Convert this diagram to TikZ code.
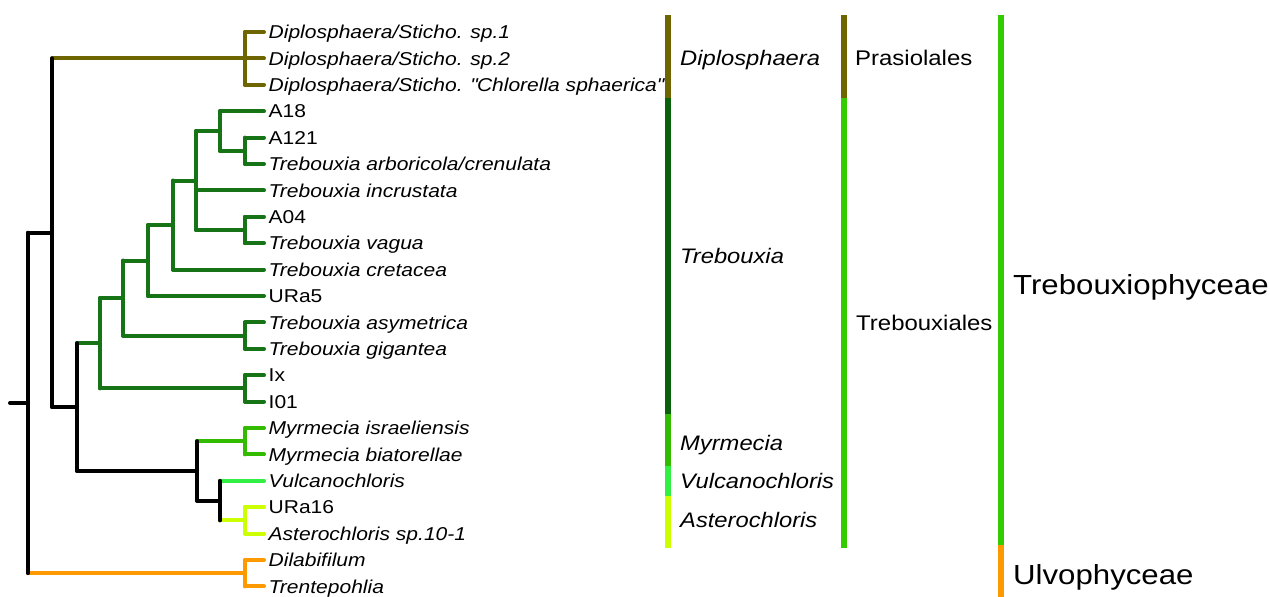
\documentclass[tikz,border=0pt]{standalone}
\usepackage{fontspec}
\setmainfont{Liberation Sans}[FakeStretch=1.13]
\definecolor{cOlive}{HTML}{6E6400}
\definecolor{cTreb}{HTML}{167416}
\definecolor{cTrebBar}{HTML}{0B600B}
\definecolor{cMyr}{HTML}{33BB00}
\definecolor{cVul}{HTML}{33EE44}
\definecolor{cAst}{HTML}{CCFF00}
\definecolor{cOra}{HTML}{FF9900}
\definecolor{cGrn}{HTML}{33CC00}
\tikzset{
  br/.style={line width=4pt, line cap=round, line join=round},
  leaf/.style={anchor=west, inner xsep=4.5pt, inner ysep=0pt, text height=13.3pt, text depth=0pt, font=\fontsize{18.6}{20}\selectfont},
  bar/.style={line width=6.5pt},
  cladelab/.style={anchor=west, inner sep=0pt, text height=15pt, text depth=0pt, font=\fontsize{21}{24}\selectfont\itshape},
  ordlab/.style={anchor=west, inner sep=0pt, text height=15pt, text depth=0pt, font=\fontsize{21.2}{24}\selectfont},
  classlab/.style={anchor=west, inner sep=0pt, text height=19.8pt, text depth=0pt, font=\fontsize{27.6}{30}\selectfont},
}
\begin{document}
\begin{tikzpicture}[x=1pt,y=-1pt]
\useasboundingbox (0,0) rectangle (1270,597);
% leaves
\node[leaf] (l1)  at (264,32)    {\itshape Diplosphaera/Sticho. sp.1};
\node[leaf] (l2)  at (264,58.4)  {\itshape Diplosphaera/Sticho. sp.2};
\node[leaf] (l3)  at (264,84.8)  {\itshape Diplosphaera/Sticho. \textquotedbl Chlorella sphaerica\textquotedbl};
\node[leaf] (l4)  at (264,111.2) {A18};
\node[leaf] (l5)  at (264,137.6) {A121};
\node[leaf] (l6)  at (264,164)   {\itshape Trebouxia arboricola/crenulata};
\node[leaf] (l7)  at (264,190.4) {\itshape Trebouxia incrustata};
\node[leaf] (l8)  at (264,216.8) {A04};
\node[leaf] (l9)  at (264,243.2) {\itshape Trebouxia vagua};
\node[leaf] (l10) at (264,269.6) {\itshape Trebouxia cretacea};
\node[leaf] (l11) at (264,296)   {URa5};
\node[leaf] (l12) at (264,322.4) {\itshape Trebouxia asymetrica};
\node[leaf] (l13) at (264,348.8) {\itshape Trebouxia gigantea};
\node[leaf] (l14) at (264,375.2) {Ix};
\node[leaf] (l15) at (264,401.6) {I01};
\node[leaf] (l16) at (264,428)   {\itshape Myrmecia israeliensis};
\node[leaf] (l17) at (264,454.4) {\itshape Myrmecia biatorellae};
\node[leaf] (l18) at (264,480.8) {\itshape Vulcanochloris};
\node[leaf] (l19) at (264,507.2) {URa16};
\node[leaf] (l20) at (264,533.6) {\itshape Asterochloris sp.10-1};
\node[leaf] (l21) at (264,560)   {\itshape Dilabifilum};
\node[leaf] (l22) at (264,586.4) {\itshape Trentepohlia};
% internal nodes
\coordinate (nD)  at (245,58.4);
\coordinate (n7)  at (245,150.8);
\coordinate (n6)  at (220,131);
\coordinate (n8)  at (245,230);
\coordinate (n5)  at (196,180.5);
\coordinate (n4)  at (173,225);
\coordinate (n3)  at (148,260.5);
\coordinate (n9)  at (245,335.6);
\coordinate (n2)  at (123,298);
\coordinate (n10) at (245,388.4);
\coordinate (nT)  at (100,343.2);
\coordinate (nMy) at (245,441.2);
\coordinate (nAs) at (245,520.4);
\coordinate (nV)  at (220,500.6);
\coordinate (nM)  at (197,470.9);
\coordinate (nB)  at (77,407);
\coordinate (nA)  at (52,232.7);
\coordinate (nO)  at (245,573.2);
\coordinate (nR)  at (28,403);
\coordinate (root) at (10,403);
% Diplosphaera clade
\draw[br,cOlive] (nD |- l1.west) -- (l1.west);
\draw[br,cOlive] (nD) -- (l2.west);
\draw[br,cOlive] (nD |- l3.west) -- (l3.west);
\draw[br,cOlive] (nD |- l1.west) -- (nD |- l3.west);
% Trebouxia clade
\draw[br,cTreb] (n7 |- l5.west) -- (l5.west);
\draw[br,cTreb] (n7 |- l6.west) -- (l6.west);
\draw[br,cTreb] (n7 |- l5.west) -- (n7 |- l6.west);
\draw[br,cTreb] (n6 |- l4.west) -- (l4.west);
\draw[br,cTreb] (n6 |- n7) -- (n7);
\draw[br,cTreb] (n6 |- l4.west) -- (n6 |- n7);
\draw[br,cTreb] (n8 |- l8.west) -- (l8.west);
\draw[br,cTreb] (n8 |- l9.west) -- (l9.west);
\draw[br,cTreb] (n8 |- l8.west) -- (n8 |- l9.west);
\draw[br,cTreb] (n5 |- n6) -- (n6);
\draw[br,cTreb] (n5 |- l7.west) -- (l7.west);
\draw[br,cTreb] (n5 |- n8) -- (n8);
\draw[br,cTreb] (n5 |- n6) -- (n5 |- n8);
\draw[br,cTreb] (n4 |- n5) -- (n5);
\draw[br,cTreb] (n4 |- l10.west) -- (l10.west);
\draw[br,cTreb] (n4 |- n5) -- (n4 |- l10.west);
\draw[br,cTreb] (n3 |- n4) -- (n4);
\draw[br,cTreb] (n3 |- l11.west) -- (l11.west);
\draw[br,cTreb] (n3 |- n4) -- (n3 |- l11.west);
\draw[br,cTreb] (n9 |- l12.west) -- (l12.west);
\draw[br,cTreb] (n9 |- l13.west) -- (l13.west);
\draw[br,cTreb] (n9 |- l12.west) -- (n9 |- l13.west);
\draw[br,cTreb] (n2 |- n3) -- (n3);
\draw[br,cTreb] (n2 |- n9) -- (n9);
\draw[br,cTreb] (n2 |- n3) -- (n2 |- n9);
\draw[br,cTreb] (n10 |- l14.west) -- (l14.west);
\draw[br,cTreb] (n10 |- l15.west) -- (l15.west);
\draw[br,cTreb] (n10 |- l14.west) -- (n10 |- l15.west);
\draw[br,cTreb] (nT |- n2) -- (n2);
\draw[br,cTreb] (nT |- n10) -- (n10);
\draw[br,cTreb] (nT |- n2) -- (nT |- n10);
% Myrmecia
\draw[br,cMyr] (nMy |- l16.west) -- (l16.west);
\draw[br,cMyr] (nMy |- l17.west) -- (l17.west);
\draw[br,cMyr] (nMy |- l16.west) -- (nMy |- l17.west);
% Asterochloris
\draw[br,cAst] (nAs |- l19.west) -- (l19.west);
\draw[br,cAst] (nAs |- l20.west) -- (l20.west);
\draw[br,cAst] (nAs |- l19.west) -- (nAs |- l20.west);
% Vulcanochloris + Asterochloris
\draw[br,cVul] (nV |- l18.west) -- (l18.west);
\draw[br,cAst] (nV |- nAs) -- (nAs);
\draw[br,black] (nV |- l18.west) -- (nV |- nAs);
% M node
\draw[br,cMyr] (nM |- nMy) -- (nMy);
\draw[br,black] (nM |- nV) -- (nV);
\draw[br,black] (nM |- nMy) -- (nM |- nV);
% B node
\draw[br,cTreb] (nB |- nT) -- (nT);
\draw[br,black] (nB |- nM) -- (nM);
\draw[br,black] (nB |- nT) -- (nB |- nM);
% A node
\draw[br,cOlive] (nA |- nD) -- (nD);
\draw[br,black] (nA |- nB) -- (nB);
\draw[br,black] (nA |- nD) -- (nA |- nB);
% Ulvophyceae
\draw[br,cOra] (nO |- l21.west) -- (l21.west);
\draw[br,cOra] (nO |- l22.west) -- (l22.west);
\draw[br,cOra] (nO |- l21.west) -- (nO |- l22.west);
% root
\draw[br,cOra] (nR |- nO) -- (nO);
\draw[br,black] (nR |- nA) -- (nA);
\draw[br,black] (nR |- nA) -- (nR |- nO);
\draw[br,black] (root) -- (nR);
% bars column 1
\coordinate (c1a) at (668,15);
\coordinate (c1b) at (668,98);
\coordinate (c1c) at (668,414);
\coordinate (c1d) at (668,466);
\coordinate (c1e) at (668,496);
\coordinate (c1f) at (668,548);
\draw[bar,cOlive] (c1a) -- (c1b);
\draw[bar,cTrebBar] (c1b) -- (c1c);
\draw[bar,cMyr] (c1c) -- (c1d);
\draw[bar,cVul] (c1d) -- (c1e);
\draw[bar,cAst] (c1e) -- (c1f);
% bars column 2
\coordinate (c2a) at (844,15);
\coordinate (c2b) at (844,98);
\coordinate (c2c) at (844,548);
\draw[bar,cOlive] (c2a) -- (c2b);
\draw[bar,cGrn] (c2b) -- (c2c);
% bars column 3
\coordinate (c3a) at (1001,15);
\coordinate (c3b) at (1001,545);
\coordinate (c3c) at (1001,597);
\draw[bar,cGrn] (c3a) -- (c3b);
\draw[bar,cOra] (c3b) -- (c3c);
% clade labels
\node[cladelab] (gDip) at (680,57.5) {Diplosphaera};
\node[cladelab] (gTre) at (680,256)  {Trebouxia};
\node[cladelab] (gMyr) at (680,442.5) {Myrmecia};
\node[cladelab] (gVul) at (680,481)  {Vulcanochloris};
\node[cladelab] (gAst) at (680,520)  {Asterochloris};
\node[ordlab] (oPra) at (855,57.5) {Prasiolales};
\node[ordlab] (oTre) at (856,322.5) {Trebouxiales};
\node[classlab] (kTre) at (1013,285) {Trebouxiophyceae};
\node[classlab] (kUlv) at (1013,575) {Ulvophyceae};
\end{tikzpicture}
\end{document}
